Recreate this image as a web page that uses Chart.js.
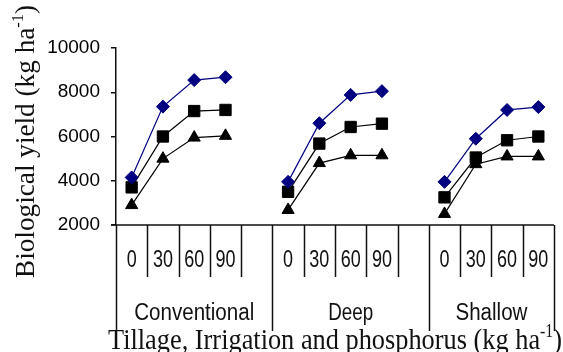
<!DOCTYPE html>
<html>
<head>
<meta charset="utf-8">
<script src="https://cdn.jsdelivr.net/npm/chart.js@4.4.1/dist/chart.umd.min.js"></script>
<style>
  html, body { margin: 0; padding: 0; background: #fff; }
  canvas { display: block; }
</style>
</head>
<body>
<canvas id="chart" width="563" height="352"></canvas>
<script>
// Biological yield by tillage x phosphorus rate (three irrigation series)

const tillage = ['Conventional', 'Deep', 'Shallow'];
const phosphorus = ['0', '30', '60', '90'];
const yTicks = [2000, 4000, 6000, 8000, 10000];

// 4 values per tillage group, in the order of `tillage`
const diamondYield = [4150, 7350, 8550, 8680, 3950, 6600, 7880, 8050, 3950, 5900, 7200, 7330];
const squareYield = [3700, 6000, 7150, 7200, 3500, 5680, 6430, 6580, 3250, 5050, 5830, 6000];
const triangleYield = [2900, 5000, 5950, 6030, 2680, 4800, 5150, 5150, 2500, 4750, 5100, 5100];

// category slots: 4 rates per group, a blank slot between groups
const labels = [];
const groupOf = [];
tillage.forEach((t, g) => {
  phosphorus.forEach(p => { labels.push(p); groupOf.push(g); });
  if (g < tillage.length - 1) { labels.push(''); groupOf.push(g); }
});

function withGaps(vals) {
  const out = [];
  tillage.forEach((t, g) => {
    for (let i = 0; i < phosphorus.length; i++) out.push(vals[g * phosphorus.length + i]);
    if (g < tillage.length - 1) out.push(null);
  });
  return out;
}

// text drawn to a target width, optional vertical stretch, superscript parts
function fitText(ctx, parts, cx, base, size, family, targetW, sy) {
  let total = 0;
  const sized = parts.map(p => {
    const fs = p.sup ? size * 0.6 : size;
    ctx.font = fs + 'px ' + family;
    const w = ctx.measureText(p.t).width;
    total += w;
    return { t: p.t, fs, w, rise: p.sup ? size * 0.38 : 0 };
  });
  const sx = targetW ? targetW / total : 1;
  ctx.save();
  ctx.translate(cx, base);
  ctx.scale(sx, sy || 1);
  ctx.textAlign = 'left';
  ctx.textBaseline = 'alphabetic';
  let x = -total / 2;
  sized.forEach(p => {
    ctx.font = p.fs + 'px ' + family;
    ctx.fillText(p.t, x, -p.rise);
    x += p.w;
  });
  ctx.restore();
}

const axisDecor = {
  id: 'axisDecor',
  afterDraw(chart) {
    const ctx = chart.ctx;
    const xs = chart.scales.x;
    const area = chart.chartArea;
    const n = labels.length;
    const bound = i => {
      if (i === 0) return xs.getPixelForValue(0) - (xs.getPixelForValue(1) - xs.getPixelForValue(0)) / 2;
      if (i === n) return xs.getPixelForValue(n - 1) + (xs.getPixelForValue(n - 1) - xs.getPixelForValue(n - 2)) / 2;
      return (xs.getPixelForValue(i - 1) + xs.getPixelForValue(i)) / 2;
    };
    const shortBottom = 277, longBottom = 331;

    ctx.save();
    ctx.strokeStyle = '#111';
    ctx.lineWidth = 1.5;
    ctx.beginPath();
    ctx.moveTo(area.left - 5, area.bottom);
    ctx.lineTo(bound(n), area.bottom);
    for (let i = 0; i <= n; i++) {
      const x = Math.round(bound(i)) + 0.5;
      const isEdge = i === 0 || i === n || groupOf[i] !== groupOf[i - 1];
      ctx.moveTo(x, area.bottom);
      ctx.lineTo(x, isEdge ? longBottom : shortBottom);
    }
    ctx.stroke();

    ctx.fillStyle = '#111';
    // phosphorus rates
    labels.forEach((l, i) => {
      if (!l) return;
      fitText(ctx, [{ t: l }], xs.getPixelForValue(i), 266.5, 18, '"Liberation Sans", Arial, sans-serif', 0, 1.3);
    });
    // tillage groups
    const groupW = [120, 45, 72];
    tillage.forEach((t, g) => {
      const first = groupOf.indexOf(g);
      const last = groupOf.lastIndexOf(g);
      const cx = (bound(first) + bound(last + 1)) / 2;
      fitText(ctx, [{ t }], cx, 320, 20.5, '"Liberation Sans", Arial, sans-serif', groupW[g], 1.13);
    });

    // axis titles
    fitText(ctx, [{ t: 'Tillage, Irrigation and phosphorus (kg ha' }, { t: '-1', sup: true }, { t: ')' }],
      335, 348.5, 29, '"Liberation Serif", "Times New Roman", serif', 454, 1.03);
    ctx.save();
    ctx.translate(34, 141.5);
    ctx.rotate(-Math.PI / 2);
    fitText(ctx, [{ t: 'Biological yield (kg ha' }, { t: '-1', sup: true }, { t: ')' }],
      0, 0, 27, '"Liberation Serif", "Times New Roman", serif', 273, 1.05);
    ctx.restore();
    ctx.restore();
  }
};

const ctx = document.getElementById('chart').getContext('2d');
new Chart(ctx, {
  type: 'line',
  data: {
    labels: labels,
    datasets: [
      {
        data: withGaps(diamondYield),
        borderColor: '#000080', backgroundColor: '#000080',
        borderWidth: 1.2, pointStyle: 'rectRot', pointRadius: 6.5, pointBorderWidth: 1
      },
      {
        data: withGaps(squareYield),
        borderColor: '#000', backgroundColor: '#000',
        borderWidth: 1.2, pointStyle: 'rect', pointRadius: 8, pointBorderWidth: 1
      },
      {
        data: withGaps(triangleYield),
        borderColor: '#000', backgroundColor: '#000',
        borderWidth: 1.2, pointStyle: 'triangle', pointRadius: 7, pointBorderWidth: 1
      }
    ]
  },
  options: {
    responsive: false,
    animation: false,
    layout: { padding: { top: 48, right: 9, left: 0, bottom: 0 } },
    plugins: { legend: { display: false }, tooltip: { enabled: false } },
    scales: {
      x: {
        type: 'category',
        offset: true,
        grid: { display: false },
        border: { display: false },
        ticks: { display: false },
        afterFit(s) { s.height = 127; }
      },
      y: {
        min: 2000,
        max: 10000,
        afterBuildTicks(s) { s.ticks = yTicks.map(v => ({ value: v })); },
        ticks: {
          color: '#000',
          padding: 11,
          font: { family: '"Liberation Sans", Arial, sans-serif', size: 19 },
          callback: v => String(v)
        },
        grid: { drawOnChartArea: false, tickLength: 5, color: '#111', lineWidth: 1.5 },
        border: { color: '#111', width: 1.5 },
        afterFit(s) { s.width = 116; }
      }
    }
  },
  plugins: [axisDecor]
});
</script>
</body>
</html>
